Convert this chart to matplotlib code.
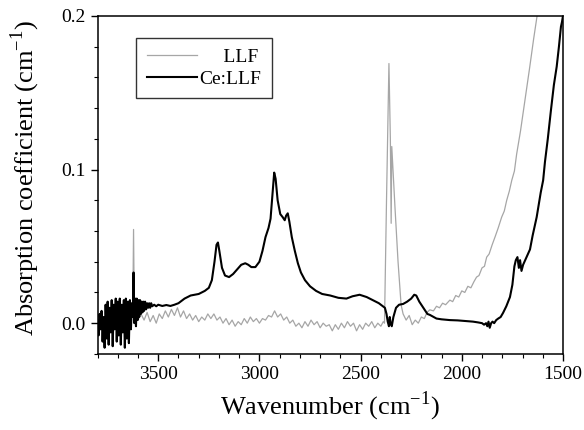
import numpy as np
import matplotlib
matplotlib.use("Agg")
import matplotlib.pyplot as plt
from matplotlib.ticker import MultipleLocator, FormatStrFormatter

plt.rcParams['font.family'] = 'serif'
plt.rcParams['font.serif'] = ['Liberation Serif', 'DejaVu Serif']
plt.rcParams['mathtext.fontset'] = 'custom'
plt.rcParams['mathtext.rm'] = 'Liberation Serif'

## data (wavenumber in cm-1, absorption in cm-1)

# Ce:LLF, noisy start + smooth part
ce_x = [3800, 3795, 3790, 3785, 3780, 3775, 3770, 3765, 3760, 3755, 3750, 3745,
        3740, 3735, 3730, 3725, 3720, 3715, 3710, 3705, 3700, 3695, 3690, 3685,
        3680, 3675, 3670, 3665, 3660, 3655, 3650, 3645, 3640, 3635, 3630, 3626,
        3622, 3618, 3614, 3610, 3606, 3602, 3598, 3594, 3590, 3586, 3582, 3578,
        3574, 3570, 3565, 3560, 3555, 3550, 3545, 3540, 3535, 3530, 3520, 3510,
        3500, 3480, 3460, 3440, 3420, 3400, 3370, 3340, 3300, 3270, 3250,
        3235, 3222, 3212, 3205, 3198, 3185, 3170, 3150, 3130, 3110, 3090, 3070,
        3055, 3040, 3020, 3000, 2985, 2970, 2955, 2945, 2935, 2927, 2920, 2910,
        2897, 2885, 2875, 2868, 2860, 2852, 2840, 2825, 2810, 2795, 2775, 2750,
        2720, 2690, 2650, 2610, 2570, 2540, 2505, 2470, 2440, 2410, 2390, 2380,
        2372, 2366, 2360, 2356, 2352, 2346, 2338, 2325, 2310, 2290, 2270, 2250,
        2235, 2225, 2210, 2190, 2170, 2158, 2125, 2100, 2059, 2020, 1990, 1945,
        1920, 1900, 1890, 1880, 1874, 1868, 1862, 1855, 1848, 1840, 1830, 1820,
        1808, 1796, 1780, 1762, 1750, 1740, 1733, 1725, 1718, 1712, 1705, 1697,
        1690, 1680, 1663, 1650, 1640, 1630, 1610, 1598, 1589, 1575, 1560, 1545,
        1531, 1520, 1510, 1505, 1500]
ce_y = [0.002, -0.008, 0.006, -0.004, 0.008, -0.012, 0.004, -0.016, 0.012, -0.010, 0.014, -0.014,
        0.010, -0.006, 0.015, -0.015, 0.012, -0.004, 0.016, -0.012, 0.014, -0.008, 0.016, -0.014,
        0.012, -0.006, 0.015, -0.016, 0.016, -0.010, 0.014, -0.013, 0.015, -0.004, 0.013, 0.004,
        0.033, 0.000, 0.016, -0.002, 0.016, 0.002, 0.015, 0.004, 0.015, 0.006, 0.014, 0.007,
        0.014, 0.008, 0.014, 0.009, 0.013, 0.010, 0.013, 0.010, 0.013, 0.011, 0.012, 0.011,
        0.012, 0.0112, 0.0118, 0.0112, 0.012, 0.013, 0.016, 0.018, 0.019, 0.021, 0.023,
        0.028, 0.040, 0.051, 0.0525, 0.047, 0.036, 0.031, 0.030, 0.032, 0.035, 0.038, 0.039,
        0.038, 0.0365, 0.0365, 0.040, 0.047, 0.056, 0.062, 0.068, 0.085, 0.098, 0.094, 0.080,
        0.071, 0.069, 0.067, 0.070, 0.0715, 0.066, 0.056, 0.047, 0.039, 0.033, 0.028, 0.024,
        0.021, 0.019, 0.018, 0.0165, 0.016, 0.0175, 0.0185, 0.017, 0.015, 0.013, 0.011, 0.010,
        0.006, 0.001, -0.002, 0.004, 0.000, -0.002, 0.004, 0.010, 0.012, 0.0125, 0.014, 0.016,
        0.0185, 0.018, 0.014, 0.010, 0.006, 0.0054, 0.003, 0.0025, 0.002, 0.0018, 0.0015, 0.001,
        0.0005, 0.000, -0.001, 0.000, -0.002, 0.001, -0.003, 0.000, 0.001, 0.000, 0.002, 0.003,
        0.004, 0.0067, 0.011, 0.017, 0.025, 0.037, 0.041, 0.043, 0.036, 0.041, 0.034, 0.038,
        0.040, 0.043, 0.048, 0.057, 0.063, 0.069, 0.085, 0.093, 0.105, 0.120, 0.138, 0.155,
        0.167, 0.180, 0.193, 0.196, 0.200]

# LLF (grey)
llf_x = [3626, 3622, 3618, 3610, 3600, 3585, 3570, 3555, 3540, 3525, 3510, 3495,
         3480, 3465, 3450, 3435, 3420, 3405, 3390, 3375, 3360, 3345, 3330, 3315,
         3300, 3285, 3270, 3255, 3240, 3225, 3210, 3195, 3180, 3165, 3150, 3135,
         3120, 3105, 3090, 3075, 3060, 3045, 3030, 3015, 3000, 2985, 2970, 2955,
         2940, 2925, 2910, 2895, 2880, 2865, 2850, 2835, 2820, 2805, 2790, 2775,
         2760, 2745, 2730, 2715, 2700, 2685, 2670, 2655, 2640, 2625, 2610, 2595,
         2580, 2565, 2550, 2535, 2520, 2505, 2490, 2475, 2460, 2445, 2430, 2415,
         2400, 2388, 2382, 2372, 2360, 2353, 2349, 2346, 2340, 2330, 2315, 2300,
         2290, 2275, 2260, 2245, 2230, 2215, 2200, 2185, 2172, 2158, 2140, 2125,
         2110, 2095, 2080, 2059, 2045, 2030, 2015, 2000, 1985, 1970, 1955, 1940,
         1927, 1915, 1900, 1888, 1877, 1865, 1850, 1836, 1820, 1803, 1790, 1778,
         1765, 1753, 1740, 1729, 1710, 1688, 1665, 1645, 1628, 1620]
llf_y = [0.005, 0.061, 0.004, 0.006, 0.002, 0.006, 0.002, 0.007, 0.001, 0.005, 0.000, 0.006,
         0.003, 0.008, 0.004, 0.009, 0.005, 0.010, 0.004, 0.008, 0.003, 0.006, 0.002, 0.005,
         0.001, 0.004, 0.002, 0.006, 0.003, 0.006, 0.002, 0.004, 0.000, 0.003, -0.001, 0.002,
         -0.002, 0.001, -0.001, 0.003, 0.000, 0.004, 0.001, 0.003, 0.000, 0.003, 0.002, 0.005,
         0.004, 0.008, 0.004, 0.006, 0.002, 0.004, 0.000, 0.002, -0.002, 0.000, -0.003, 0.001,
         -0.002, 0.002, -0.001, 0.001, -0.003, 0.000, -0.002, -0.001, -0.005, -0.001, -0.004, 0.000,
         -0.003, 0.001, -0.002, 0.000, -0.005, -0.001, -0.004, 0.000, -0.002, 0.001, -0.003, 0.000,
         -0.002, 0.001, 0.000, 0.080, 0.169, 0.120, 0.065, 0.115, 0.100, 0.075, 0.040, 0.012,
         0.006, 0.002, 0.005, -0.001, 0.002, 0.000, 0.004, 0.003, 0.007, 0.0087, 0.008, 0.011,
         0.010, 0.013, 0.012, 0.015, 0.014, 0.018, 0.017, 0.021, 0.020, 0.024, 0.023, 0.027,
         0.030, 0.031, 0.036, 0.037, 0.043, 0.045, 0.051, 0.056, 0.062, 0.069, 0.073, 0.080,
         0.086, 0.093, 0.099, 0.110, 0.125, 0.145, 0.166, 0.185, 0.200, 0.210]

xticks = [3500, 3000, 2500, 2000, 1500]
yticks = [0.0, 0.1, 0.2]

fig = plt.figure(figsize=(5.84, 4.30), dpi=100)
ax = fig.add_axes([0.167, 0.177, 0.797, 0.786])

ax.plot(llf_x, llf_y, color='#a6a6a6', lw=0.9, label='     LLF')
ax.plot(ce_x, ce_y, color='black', lw=1.5, label='Ce:LLF')

ax.set_xlim(3800, 1500)
ax.set_ylim(-0.02, 0.2)
ax.set_xticks(xticks)
ax.set_yticks(yticks)
ax.xaxis.set_minor_locator(MultipleLocator(100))
ax.yaxis.set_minor_locator(MultipleLocator(0.02))
ax.yaxis.set_major_formatter(FormatStrFormatter('%.1f'))
ax.tick_params(which='major', direction='out', length=5, width=1, labelsize=14,
               top=False, right=False)
ax.tick_params(which='minor', direction='out', length=3, width=0.8, top=False, right=False)
for s in ax.spines.values():
    s.set_linewidth(1.1)

ax.set_xlabel('Wavenumber (cm$^{-1}$)', fontsize=19, labelpad=5)
ax.set_ylabel('Absorption coefficient (cm$^{-1}$)', fontsize=19)
ax.yaxis.set_label_coords(-0.12, 0.52)

leg = ax.legend(loc='upper left', bbox_to_anchor=(0.0825, 0.935), borderaxespad=0,
                fontsize=14, frameon=True, fancybox=False, handlelength=2.6,
                handletextpad=0.1, borderpad=0.55, labelspacing=0.2)
leg.get_frame().set_edgecolor('black')
leg.get_frame().set_linewidth(1.0)

fig.savefig('out.png', dpi=100)
